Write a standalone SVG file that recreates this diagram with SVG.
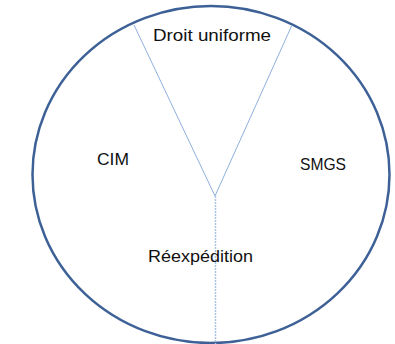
<svg xmlns="http://www.w3.org/2000/svg" width="395" height="344" viewBox="0 0 395 344">
<style>
.lbl{font-family:"Liberation Sans",Arial,sans-serif;font-size:17px;fill:#111111}
.div{stroke:#8fb0dc;stroke-width:1;fill:none}
.dot{stroke:#a9c1e3;stroke-width:1.5;stroke-dasharray:2 1;fill:none}
</style>
<rect width="395" height="344" fill="#ffffff"/>
<g id="circle">
<ellipse cx="211" cy="174.5" rx="178.5" ry="168.5" fill="none" stroke="#3d6196" stroke-width="2.5"/>
</g>
<g id="connectors">
<line class="div" x1="134" y1="25" x2="215" y2="196"/>
<line class="div" x1="292" y1="25" x2="215" y2="196"/>
<line class="dot" x1="215.5" y1="196" x2="215.5" y2="344"/>
</g>
<g id="droit-uniforme"><text class="lbl" x="153" y="41" textLength="118" lengthAdjust="spacingAndGlyphs">Droit uniforme</text></g>
<g id="cim"><text class="lbl" x="97" y="165" textLength="32" lengthAdjust="spacingAndGlyphs">CIM</text></g>
<g id="smgs"><text class="lbl" x="300" y="170" textLength="46" lengthAdjust="spacingAndGlyphs">SMGS</text></g>
<g id="reexpedition"><text class="lbl" x="148" y="262" textLength="105" lengthAdjust="spacingAndGlyphs">Réexpédition</text></g>
</svg>
